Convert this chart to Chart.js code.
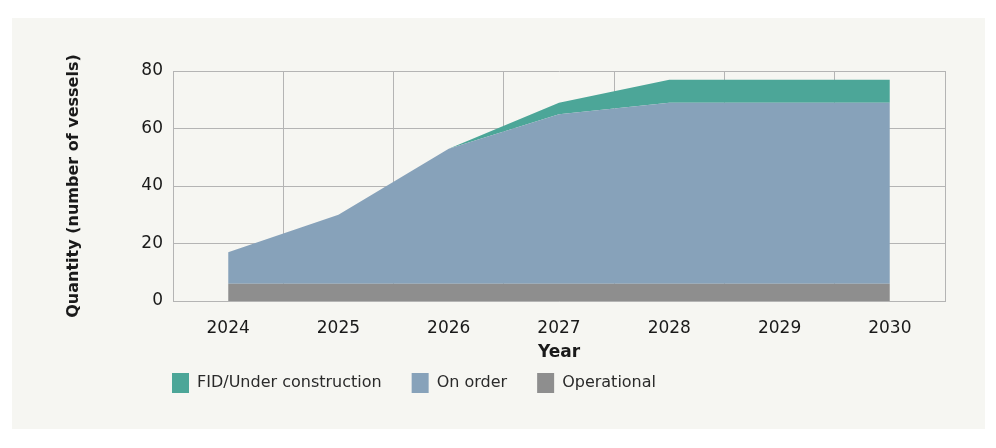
<!DOCTYPE html>
<html>
<head>
<meta charset="utf-8">
<script src="https://cdn.jsdelivr.net/npm/chart.js@4.4.1/dist/chart.umd.min.js"></script>
<style>
  html, body { margin: 0; padding: 0; background: #ffffff; }
  #panel { position: absolute; left: 12px; top: 18px; width: 973px; height: 411px; background: #f6f6f2; }
  #chart { display: block; }
</style>
</head>
<body>
<div id="panel"><canvas id="chart" width="973" height="411"></canvas></div>
<script>
// Vessels by status
const years = ['2024', '2025', '2026', '2027', '2028', '2029', '2030'];
const operational = [6, 6, 6, 6, 6, 6, 6];
const onOrder = [11, 24, 47, 59, 63, 63, 63];
const fidUnderConstruction = [0, 0, 0, 4, 8, 8, 8];
const yTicks = [0, 20, 40, 60, 80];

const FONT = "'DejaVu Sans', sans-serif";
const GRID = '#b4b4b4';

// moves the legend so its first box lines up with the plot's left edge
const legendNudge = {
    id: 'legendNudge',
    afterLayout(chart) {
        const lg = chart.legend;
        if (!lg) return;
        const pad = lg.options.labels.padding;
        const w = lg.right - lg.left;
        lg.left = chart.chartArea.left - 1 - pad;
        lg.right = lg.left + w;
        lg.top = 355 - pad;
        lg.bottom = lg.top + 60;
    }
};

new Chart(document.getElementById('chart'), {
    type: 'line',
    data: {
        labels: years,
        datasets: [
            { label: 'Operational', data: operational, backgroundColor: '#8e8e8e', borderColor: '#8e8e8e' },
            { label: 'On order', data: onOrder, backgroundColor: '#87a2ba', borderColor: '#87a2ba' },
            { label: 'FID/Under construction', data: fidUnderConstruction, backgroundColor: '#4ca698', borderColor: '#4ca698' },
        ].map((ds, i) => Object.assign(ds, {
            fill: i === 0 ? 'origin' : '-1',
            borderWidth: 0,
            pointRadius: 0,
            tension: 0,
        })),
    },
    options: {
        responsive: false,
        animation: false,
        layout: { padding: { top: 53, right: 40, bottom: 22, left: 0 } },
        scales: {
            x: {
                offset: true,
                afterFit: (scale) => { scale.height = 66; },
                grid: { offset: true, color: GRID, drawTicks: false },
                border: { color: GRID },
                ticks: { color: '#1a1a1a', padding: 17, font: { family: FONT, size: 17 } },
                title: {
                    display: true, text: 'Year', color: '#1a1a1a',
                    padding: { top: 6, bottom: 4 },
                    font: { family: FONT, size: 17, weight: 'bold' },
                },
            },
            y: {
                stacked: true,
                min: 0, max: 80,
                afterBuildTicks: (scale) => { scale.ticks = yTicks.map(v => ({ value: v })); },
                afterFit: (scale) => { scale.width = 161; },
                grid: { color: GRID, drawTicks: false },
                border: { color: GRID },
                ticks: { color: '#1a1a1a', padding: 10, font: { family: FONT, size: 17 } },
                title: {
                    display: true, text: 'Quantity (number of vessels)', color: '#1a1a1a',
                    padding: { top: 52, bottom: 0 },
                    font: { family: FONT, size: 16, weight: 'bold' },
                },
            },
        },
        plugins: {
            legend: {
                position: 'bottom',
                align: 'start',
                fullSize: false,
                maxHeight: 40,
                reverse: true,
                labels: {
                    boxWidth: 17, boxHeight: 20, padding: 30,
                    color: '#2a2a2a',
                    font: { family: FONT, size: 16 },
                },
            },
            tooltip: { enabled: false },
        },
    },
    plugins: [legendNudge],
});
</script>
</body>
</html>
